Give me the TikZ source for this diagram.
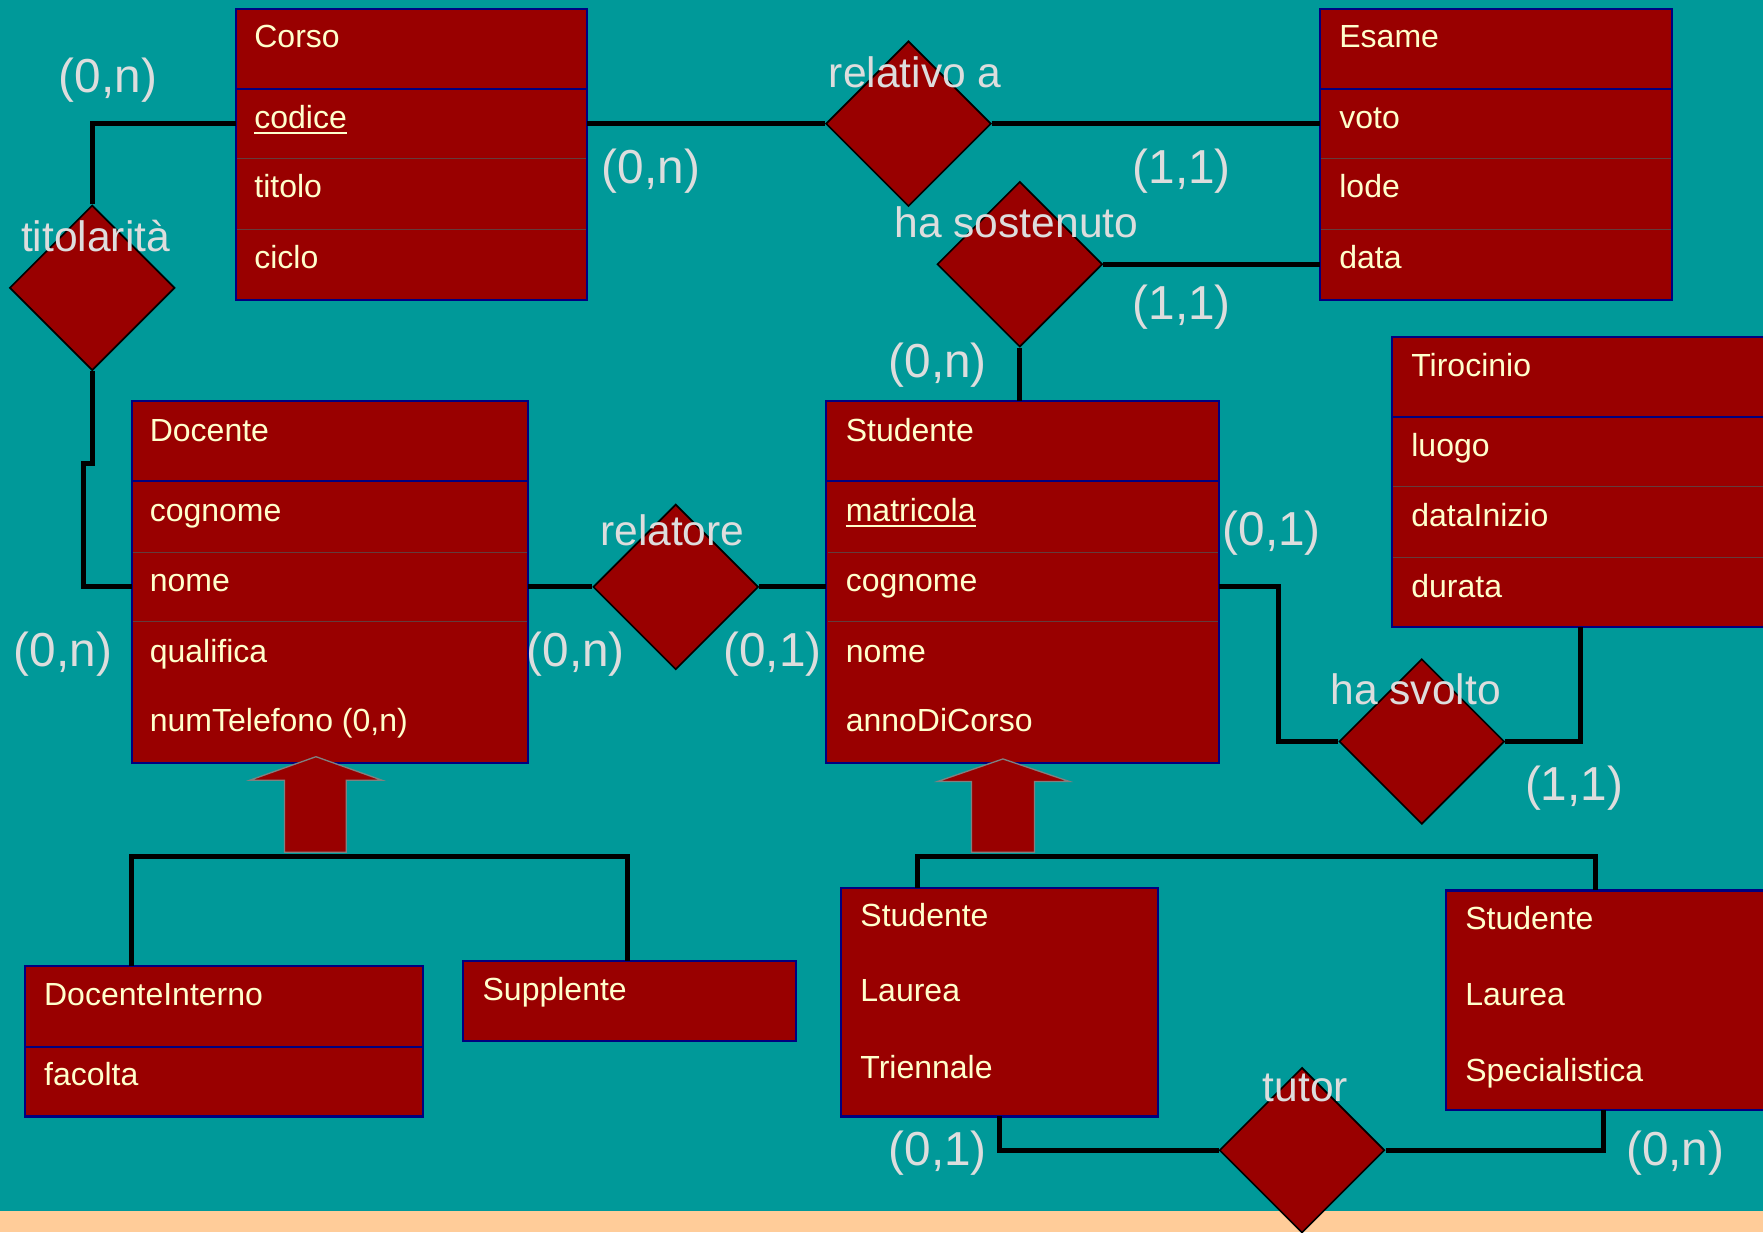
\documentclass[tikz,border=0pt]{standalone}
\usepackage{fontspec}
\setmainfont{Liberation Sans}
\usetikzlibrary{shapes.geometric,calc}
\definecolor{bgteal}{RGB}{0,153,153}
\definecolor{boxred}{RGB}{153,0,0}
\definecolor{peach}{RGB}{255,204,153}
\definecolor{cream}{RGB}{255,255,204}
\definecolor{lblgrey}{RGB}{221,221,221}
\definecolor{navy}{RGB}{0,0,128}
\definecolor{sepcol}{RGB}{100,60,60}
\newcommand{\upx}{0.3mm}
\begin{document}
\begin{tikzpicture}[x=0.3mm,y=-0.3mm,
  ent/.style={draw=navy, line width=0.55mm, fill=boxred, anchor=north west, inner sep=0, outer sep=0},
  hdr/.style={draw=navy, line width=0.6mm},
  thinsep/.style={draw=sepcol, line width=0.25mm},
  rel/.style={diamond, draw=black, fill=boxred, line width=0.45mm, inner sep=0,
    minimum width=147*\upx, minimum height=147*\upx},
  conn/.style={draw=black, line width=1.3mm},
  etxt/.style={anchor=base west, text=cream, inner sep=0, font=\fontsize{24.3pt}{28pt}\selectfont},
  rtxt/.style={anchor=base, text=lblgrey, inner sep=0, font=\fontsize{32.3pt}{36pt}\selectfont},
  ctxt/.style={anchor=base, text=lblgrey, inner sep=0, font=\fontsize{36.2pt}{40pt}\selectfont},
  isa/.style={fill=boxred, draw=gray, line width=0.35mm},
  uline/.style={draw=cream, line width=0.55mm}
]
\useasboundingbox (0,0) rectangle (1568,1096);
\clip (0,0) rectangle (1568,1096);
\fill[bgteal] (0,0) rectangle (1568,1096);
\fill[peach] (0,1077) rectangle (1568,1096);

% entity boxes
\node[ent, minimum width=312*\upx, minimum height=259*\upx] (corso) at (210,8) {};
\node[ent, minimum width=313*\upx, minimum height=259*\upx] (esame) at (1174,8) {};
\node[ent, minimum width=340*\upx, minimum height=258*\upx] (tiro) at (1238,300) {};
\node[ent, minimum width=353*\upx, minimum height=322*\upx] (docente) at (117,357) {};
\node[ent, minimum width=349*\upx, minimum height=322*\upx] (stud) at (735,357) {};
\node[ent, minimum width=354*\upx, minimum height=134*\upx] (dint) at (22,859) {};
\node[ent, minimum width=296*\upx, minimum height=71*\upx] (supp) at (412,855) {};
\node[ent, minimum width=282*\upx, minimum height=203*\upx] (stt) at (748,790) {};
\node[ent, minimum width=300*\upx, minimum height=195*\upx] (sts) at (1286,792) {};

% separators
\draw[hdr] (210,79) -- (522,79);
\draw[thinsep] (211,141) -- (521,141) (211,204) -- (521,204);
\draw[hdr] (1174,79) -- (1487,79);
\draw[thinsep] (1175,141) -- (1486,141) (1175,204) -- (1486,204);
\draw[hdr] (1238,371) -- (1578,371);
\draw[thinsep] (1239,433) -- (1578,433) (1239,496) -- (1578,496);
\draw[hdr] (117,428) -- (470,428);
\draw[thinsep] (118,491) -- (469,491) (118,553) -- (469,553);
\draw[hdr] (735,428) -- (1084,428);
\draw[thinsep] (736,491) -- (1083,491) (736,553) -- (1083,553);
\draw[hdr] (22,931) -- (376,931);

% relationships
\node[rel] (tit) at (82,256) {};
\node[rel] (rela) at (808,110) {};
\node[rel] (hasost) at (907,235) {};
\node[rel] (relat) at (601,522) {};
\node[rel] (hasvolto) at (1264.5,659.5) {};
\node[rel] (tutor) at (1158,1023) {};

% connectors
\draw[conn] (tit.north) |- (corso.west |- rela.west);
\draw[conn] (corso.east |- rela.west) -- (rela.west);
\draw[conn] (rela.east) -- (esame.west |- rela.east);
\draw[conn] (hasost.east) -- (esame.west |- hasost.east);
\draw[conn] (hasost.south) -- (hasost.south |- stud.north);
\draw[conn] (tit.south) -- ++(0,82) -- ++(-8,0) |- (docente.west |- relat.west);
\draw[conn] (docente.east |- relat.west) -- (relat.west);
\draw[conn] (relat.east) -- (stud.west |- relat.east);
\draw[conn] (stud.east |- relat.east) -- ++(53,0) |- (hasvolto.west);
\draw[conn] (hasvolto.east) -| ($(tiro.south west)+(168,0)$);
\draw[conn] ($(dint.north west)+(95,0)$) -- ++(0,-97) -| ($(supp.north west)+(146,0)$);
\draw[conn] ($(stt.north west)+(68,0)$) -- ++(0,-28) -| ($(sts.north west)+(133,0)$);
\draw[conn] ($(stt.south west)+(141,0)$) |- (tutor.west);
\draw[conn] (tutor.east) -| ($(sts.south west)+(140,0)$);

% ISA block arrows
\draw[isa] (281,673) -- (222,694) -- (253,694) -- (253,758) -- (308,758) -- (308,694) -- (340,694) -- cycle;
\draw[isa] (892,675) -- (834,695) -- (864,695) -- (864,758) -- (920,758) -- (920,695) -- (951,695) -- cycle;

% entity texts
\node[etxt] (tCorso) at (226,42) {Corso};
\node[etxt] (tCodice) at (226,114) {codice};
\draw[uline] ($(tCodice.base west)+(0,4)$) -- ($(tCodice.base east)+(0,4)$);
\node[etxt] (tTitolo) at (226,176) {titolo};
\node[etxt] (tCiclo) at (226,239) {ciclo};

\node[etxt] (tEsame) at (1191,42) {Esame};
\node[etxt] (tVoto) at (1191,114) {voto};
\node[etxt] (tLode) at (1191,176) {lode};
\node[etxt] (tData) at (1191,239) {data};

\node[etxt] (tTiro) at (1255,335) {Tirocinio};
\node[etxt] (tLuogo) at (1255,406) {luogo};
\node[etxt] (tDataIn) at (1255,468) {dataInizio};
\node[etxt] (tDurata) at (1255,531) {durata};

\node[etxt] (tDoc) at (133,393) {Docente};
\node[etxt] (tDcog) at (133,464) {cognome};
\node[etxt] (tDnom) at (133,526) {nome};
\node[etxt] (tDqua) at (133,589) {qualifica};
\node[etxt] (tDtel) at (133,651) {numTelefono (0,n)};

\node[etxt] (tStu) at (752,393) {Studente};
\node[etxt] (tMatr) at (752,464) {matricola};
\draw[uline] ($(tMatr.base west)+(0,4)$) -- ($(tMatr.base east)+(0,4)$);
\node[etxt] (tScog) at (752,526) {cognome};
\node[etxt] (tSnom) at (752,589) {nome};
\node[etxt] (tSann) at (752,651) {annoDiCorso};

\node[etxt] (tDint) at (39,894) {DocenteInterno};
\node[etxt] (tFac) at (39,965) {facolta};
\node[etxt] (tSupp) at (429,890) {Supplente};

\node[etxt] (tT1) at (765,824) {Studente};
\node[etxt] (tT2) at (765,891) {Laurea};
\node[etxt] (tT3) at (765,959) {Triennale};

\node[etxt] (tS1) at (1303,827) {Studente};
\node[etxt] (tS2) at (1303,894) {Laurea};
\node[etxt] (tS3) at (1303,962) {Specialistica};

% relationship labels
\node[rtxt] (lTit) at (85,224) {titolarità};
\node[rtxt] (lRela) at (814,78) {relativo a};
\node[rtxt] (lHasost) at (904,211) {ha sostenuto};
\node[rtxt] (lRelat) at (598,485) {relatore};
\node[rtxt] (lHasv) at (1259,627) {ha svolto};
\node[rtxt] (lTutor) at (1161,980) {tutor};

% cardinalities
\node[ctxt] (c1) at (96,82) {(0,n)};
\node[ctxt] (c2) at (579,163) {(0,n)};
\node[ctxt] (c3) at (1051,163) {(1,1)};
\node[ctxt] (c4) at (1051,284) {(1,1)};
\node[ctxt] (c5) at (834,336) {(0,n)};
\node[ctxt] (c6) at (56,593) {(0,n)};
\node[ctxt] (c7) at (512,593) {(0,n)};
\node[ctxt] (c8) at (687,593) {(0,1)};
\node[ctxt] (c9) at (1131,485) {(0,1)};
\node[ctxt] (c10) at (1400,712) {(1,1)};
\node[ctxt] (c11) at (834,1037) {(0,1)};
\node[ctxt] (c12) at (1490,1037) {(0,n)};
\end{tikzpicture}
\end{document}
